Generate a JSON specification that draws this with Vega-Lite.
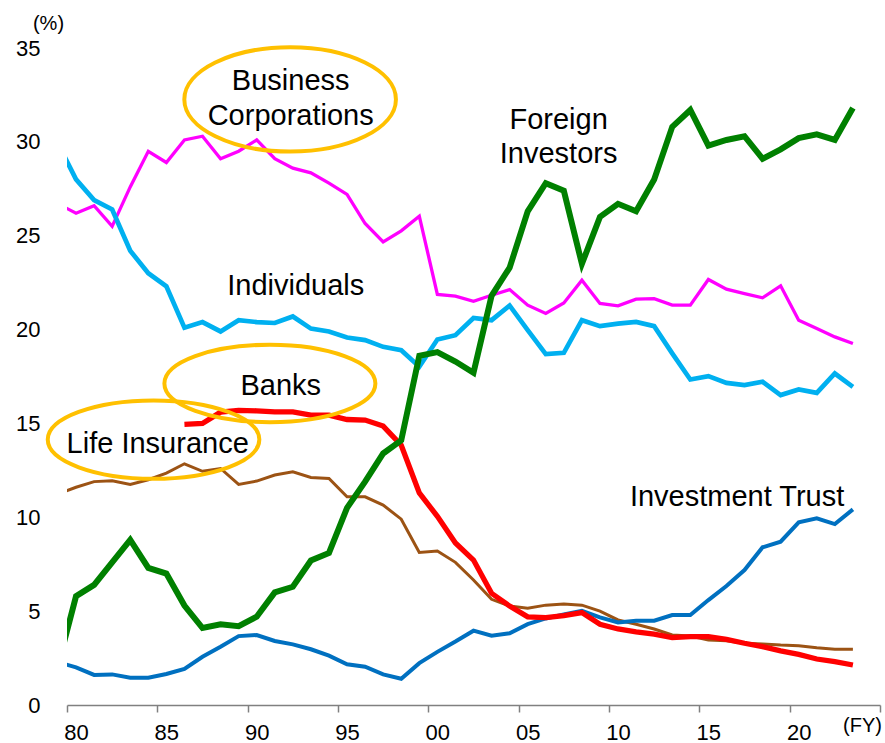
{
  "$schema": "https://vega.github.io/schema/vega-lite/v6.json",
  "width": 813,
  "height": 657,
  "autosize": {"type": "none"},
  "padding": {"left": 67, "top": 48, "right": 5, "bottom": 38},
  "background": "white",
  "config": {"view": {"stroke": null}, "font": "Liberation Sans", "axis": {"grid": false}},
  "datasets": {
    "shares": [
      {"year": 1979, "corp": 26.7, "ind": 29.9, "foreign": 2.1, "bank": null, "life": 11.23, "trust": 2.29},
      {"year": 1980, "corp": 26.2, "ind": 28.0, "foreign": 5.8, "bank": null, "life": 11.6, "trust": 2.0},
      {"year": 1981, "corp": 26.6, "ind": 26.9, "foreign": 6.4, "bank": null, "life": 11.9, "trust": 1.6},
      {"year": 1982, "corp": 25.5, "ind": 26.4, "foreign": 7.6, "bank": null, "life": 11.95, "trust": 1.63},
      {"year": 1983, "corp": 27.6, "ind": 24.2, "foreign": 8.8, "bank": null, "life": 11.75, "trust": 1.45},
      {"year": 1984, "corp": 29.5, "ind": 23.0, "foreign": 7.3, "bank": null, "life": 12.0, "trust": 1.45},
      {"year": 1985, "corp": 28.9, "ind": 22.3, "foreign": 7.0, "bank": null, "life": 12.35, "trust": 1.65},
      {"year": 1986, "corp": 30.1, "ind": 20.1, "foreign": 5.3, "bank": 14.95, "life": 12.85, "trust": 1.92},
      {"year": 1987, "corp": 30.3, "ind": 20.4, "foreign": 4.1, "bank": 15.0, "life": 12.45, "trust": 2.57},
      {"year": 1988, "corp": 29.1, "ind": 19.9, "foreign": 4.3, "bank": 15.6, "life": 12.6, "trust": 3.1},
      {"year": 1989, "corp": 29.5, "ind": 20.5, "foreign": 4.2, "bank": 15.7, "life": 11.75, "trust": 3.67},
      {"year": 1990, "corp": 30.1, "ind": 20.4, "foreign": 4.7, "bank": 15.67, "life": 11.93, "trust": 3.73},
      {"year": 1991, "corp": 29.1, "ind": 20.35, "foreign": 6.0, "bank": 15.62, "life": 12.25, "trust": 3.41},
      {"year": 1992, "corp": 28.6, "ind": 20.7, "foreign": 6.3, "bank": 15.62, "life": 12.42, "trust": 3.23},
      {"year": 1993, "corp": 28.35, "ind": 20.05, "foreign": 7.7, "bank": 15.44, "life": 12.12, "trust": 2.97},
      {"year": 1994, "corp": 27.8, "ind": 19.9, "foreign": 8.1, "bank": 15.44, "life": 12.07, "trust": 2.63},
      {"year": 1995, "corp": 27.2, "ind": 19.58, "foreign": 10.5, "bank": 15.21, "life": 11.09, "trust": 2.17},
      {"year": 1996, "corp": 25.65, "ind": 19.44, "foreign": 11.9, "bank": 15.18, "life": 11.09, "trust": 2.04},
      {"year": 1997, "corp": 24.67, "ind": 19.08, "foreign": 13.4, "bank": 14.86, "life": 10.65, "trust": 1.63},
      {"year": 1998, "corp": 25.26, "ind": 18.9, "foreign": 14.1, "bank": 13.84, "life": 9.9, "trust": 1.4},
      {"year": 1999, "corp": 26.04, "ind": 18.02, "foreign": 18.6, "bank": 11.3, "life": 8.13, "trust": 2.23},
      {"year": 2000, "corp": 21.87, "ind": 19.47, "foreign": 18.8, "bank": 10.05, "life": 8.2, "trust": 2.83},
      {"year": 2001, "corp": 21.78, "ind": 19.7, "foreign": 18.3, "bank": 8.63, "life": 7.6, "trust": 3.38},
      {"year": 2002, "corp": 21.51, "ind": 20.62, "foreign": 17.7, "bank": 7.72, "life": 6.66, "trust": 3.96},
      {"year": 2003, "corp": 21.83, "ind": 20.5, "foreign": 21.8, "bank": 5.95, "life": 5.63, "trust": 3.69},
      {"year": 2004, "corp": 22.13, "ind": 21.28, "foreign": 23.3, "bank": 5.27, "life": 5.27, "trust": 3.82},
      {"year": 2005, "corp": 21.3, "ind": 19.97, "foreign": 26.3, "bank": 4.7, "life": 5.15, "trust": 4.31},
      {"year": 2006, "corp": 20.86, "ind": 18.69, "foreign": 27.8, "bank": 4.65, "life": 5.32, "trust": 4.61},
      {"year": 2007, "corp": 21.42, "ind": 18.76, "foreign": 27.4, "bank": 4.76, "life": 5.38, "trust": 4.83},
      {"year": 2008, "corp": 22.63, "ind": 20.5, "foreign": 23.5, "bank": 4.92, "life": 5.32, "trust": 5.02},
      {"year": 2009, "corp": 21.39, "ind": 20.18, "foreign": 26.0, "bank": 4.3, "life": 5.0, "trust": 4.67},
      {"year": 2010, "corp": 21.26, "ind": 20.32, "foreign": 26.7, "bank": 4.05, "life": 4.53, "trust": 4.4},
      {"year": 2011, "corp": 21.62, "ind": 20.41, "foreign": 26.3, "bank": 3.9, "life": 4.3, "trust": 4.49},
      {"year": 2012, "corp": 21.65, "ind": 20.18, "foreign": 28.0, "bank": 3.78, "life": 4.05, "trust": 4.49},
      {"year": 2013, "corp": 21.3, "ind": 18.73, "foreign": 30.8, "bank": 3.59, "life": 3.73, "trust": 4.79},
      {"year": 2014, "corp": 21.3, "ind": 17.34, "foreign": 31.7, "bank": 3.64, "life": 3.67, "trust": 4.79},
      {"year": 2015, "corp": 22.67, "ind": 17.52, "foreign": 29.8, "bank": 3.64, "life": 3.46, "trust": 5.59},
      {"year": 2016, "corp": 22.15, "ind": 17.16, "foreign": 30.1, "bank": 3.5, "life": 3.42, "trust": 6.34},
      {"year": 2017, "corp": 21.92, "ind": 17.04, "foreign": 30.3, "bank": 3.29, "life": 3.29, "trust": 7.19},
      {"year": 2018, "corp": 21.69, "ind": 17.22, "foreign": 29.1, "bank": 3.11, "life": 3.25, "trust": 8.4},
      {"year": 2019, "corp": 22.33, "ind": 16.51, "foreign": 29.6, "bank": 2.88, "life": 3.19, "trust": 8.7},
      {"year": 2020, "corp": 20.5, "ind": 16.81, "foreign": 30.2, "bank": 2.7, "life": 3.16, "trust": 9.73},
      {"year": 2021, "corp": 20.06, "ind": 16.63, "foreign": 30.4, "bank": 2.45, "life": 3.05, "trust": 9.94},
      {"year": 2022, "corp": 19.61, "ind": 17.66, "foreign": 30.1, "bank": 2.31, "life": 2.97, "trust": 9.64},
      {"year": 2023, "corp": 19.26, "ind": 16.95, "foreign": 31.8, "bank": 2.13, "life": 2.97, "trust": 10.42}
    ],
    "one": [{"k": 1}]
  },
  "data": {"name": "shares"},
  "layer": [
    {
      "mark": {"type": "line", "color": "#FF00FF", "strokeWidth": 3.3, "clip": true},
      "encoding": {
        "x": {
          "field": "year", "type": "quantitative", "title": "(FY)",
          "scale": {"domain": [1979.5, 2024.5], "nice": false, "zero": false},
          "axis": {
            "values": [1979.5, 1984.5, 1989.5, 1994.5, 1999.5, 2004.5, 2009.5, 2014.5, 2019.5, 2024.5],
            "labelExpr": "datum.value > 2024 ? '' : substring(toString(datum.value + 0.5), 2, 4)",
            "labelOffset": 9,
            "labelFlush": false,
            "labelBound": false,
            "labelOverlap": false,
            "tickSize": 7,
            "tickWidth": 1.5,
            "tickColor": "#808080",
            "domainColor": "#808080",
            "domainWidth": 1.5,
            "labelFontSize": 22,
            "labelColor": "#000000",
            "labelFont": "Liberation Sans",
            "labelPadding": 10,
            "title": "(FY)",
            "titleX": 795,
            "titleY": 20,
            "titleAlign": "center",
            "titleBaseline": "middle",
            "titleFontSize": 20,
            "titleFontWeight": "normal",
            "titleColor": "#000000",
            "titleFont": "Liberation Sans"
          }
        },
        "y": {
          "field": "corp", "type": "quantitative", "title": "(%)",
          "scale": {"domain": [0, 35], "nice": false},
          "axis": {
            "values": [0, 5, 10, 15, 20, 25, 30, 35],
            "domain": false,
            "ticks": false,
            "labelPadding": 27,
            "labelFontSize": 22,
            "labelColor": "#000000",
            "labelFont": "Liberation Sans",
            "title": "(%)",
            "titleAngle": 0,
            "titleX": -19,
            "titleY": -25,
            "titleAlign": "center",
            "titleBaseline": "middle",
            "titleFontSize": 20,
            "titleFontWeight": "normal",
            "titleColor": "#000000",
            "titleFont": "Liberation Sans"
          }
        }
      }
    },
    {
      "mark": {"type": "line", "color": "#00B0F0", "strokeWidth": 4.7, "clip": true},
      "encoding": {
        "x": {"field": "year", "type": "quantitative", "title": "(FY)"},
        "y": {"field": "ind", "type": "quantitative", "title": "(%)"}
      }
    },
    {
      "mark": {"type": "line", "color": "#9C5314", "strokeWidth": 3, "clip": true},
      "encoding": {
        "x": {"field": "year", "type": "quantitative", "title": "(FY)"},
        "y": {"field": "life", "type": "quantitative", "title": "(%)"}
      }
    },
    {
      "mark": {"type": "line", "color": "#0070C0", "strokeWidth": 4, "clip": true},
      "encoding": {
        "x": {"field": "year", "type": "quantitative", "title": "(FY)"},
        "y": {"field": "trust", "type": "quantitative", "title": "(%)"}
      }
    },
    {
      "mark": {"type": "line", "color": "#FF0000", "strokeWidth": 5.3, "clip": true},
      "encoding": {
        "x": {"field": "year", "type": "quantitative", "title": "(FY)"},
        "y": {"field": "bank", "type": "quantitative", "title": "(%)"}
      }
    },
    {
      "mark": {"type": "line", "color": "#008000", "strokeWidth": 6, "clip": true},
      "encoding": {
        "x": {"field": "year", "type": "quantitative", "title": "(FY)"},
        "y": {"field": "foreign", "type": "quantitative", "title": "(%)"}
      }
    },
    {
      "data": {"name": "one"},
      "mark": {"type": "point", "shape": "M -1 0 A 1 0.493 0 1 1 1 0 A 1 0.493 0 1 1 -1 0 Z", "size": 44775, "filled": false, "stroke": "#FFC000", "strokeWidth": 4, "opacity": 1},
      "encoding": {
        "x": {"datum": 1991.85, "type": "quantitative", "title": "(FY)"},
        "y": {"datum": 32.26, "type": "quantitative", "title": "(%)"}
      }
    },
    {
      "data": {"name": "one"},
      "mark": {"type": "point", "shape": "M -1 0 A 1 0.367 0 1 1 1 0 A 1 0.367 0 1 1 -1 0 Z", "size": 44521, "filled": false, "stroke": "#FFC000", "strokeWidth": 4, "opacity": 1},
      "encoding": {
        "x": {"datum": 1990.73, "type": "quantitative", "title": "(FY)"},
        "y": {"datum": 17.13, "type": "quantitative", "title": "(%)"}
      }
    },
    {
      "data": {"name": "one"},
      "mark": {"type": "point", "shape": "M -1 0 A 1 0.37 0 1 1 1 0 A 1 0.37 0 1 1 -1 0 Z", "size": 44775, "filled": false, "stroke": "#FFC000", "strokeWidth": 4, "opacity": 1},
      "encoding": {
        "x": {"datum": 1984.29, "type": "quantitative", "title": "(FY)"},
        "y": {"datum": 14.14, "type": "quantitative", "title": "(%)"}
      }
    },
    {
      "data": {"name": "one"},
      "mark": {"type": "text", "text": ["Business", "Corporations"], "fontSize": 29, "lineHeight": 35, "font": "Liberation Sans", "color": "#000000", "align": "center", "baseline": "middle"},
      "encoding": {
        "x": {"datum": 1991.88, "type": "quantitative", "title": "(FY)"},
        "y": {"datum": 33.25, "type": "quantitative", "title": "(%)"}
      }
    },
    {
      "data": {"name": "one"},
      "mark": {"type": "text", "text": "Individuals", "fontSize": 29, "font": "Liberation Sans", "color": "#000000", "align": "center", "baseline": "middle"},
      "encoding": {
        "x": {"datum": 1992.16, "type": "quantitative", "title": "(FY)"},
        "y": {"datum": 22.3, "type": "quantitative", "title": "(%)"}
      }
    },
    {
      "data": {"name": "one"},
      "mark": {"type": "text", "text": ["Foreign", "Investors"], "fontSize": 29, "lineHeight": 34, "font": "Liberation Sans", "color": "#000000", "align": "center", "baseline": "middle"},
      "encoding": {
        "x": {"datum": 2006.71, "type": "quantitative", "title": "(FY)"},
        "y": {"datum": 31.15, "type": "quantitative", "title": "(%)"}
      }
    },
    {
      "data": {"name": "one"},
      "mark": {"type": "text", "text": "Banks", "fontSize": 29, "font": "Liberation Sans", "color": "#000000", "align": "center", "baseline": "middle"},
      "encoding": {
        "x": {"datum": 1991.33, "type": "quantitative", "title": "(FY)"},
        "y": {"datum": 16.98, "type": "quantitative", "title": "(%)"}
      }
    },
    {
      "data": {"name": "one"},
      "mark": {"type": "text", "text": "Life Insurance", "fontSize": 29, "font": "Liberation Sans", "color": "#000000", "align": "center", "baseline": "middle"},
      "encoding": {
        "x": {"datum": 1984.52, "type": "quantitative", "title": "(FY)"},
        "y": {"datum": 13.88, "type": "quantitative", "title": "(%)"}
      }
    },
    {
      "data": {"name": "one"},
      "mark": {"type": "text", "text": "Investment Trust", "fontSize": 29, "font": "Liberation Sans", "color": "#000000", "align": "center", "baseline": "middle"},
      "encoding": {
        "x": {"datum": 2016.59, "type": "quantitative", "title": "(FY)"},
        "y": {"datum": 11.1, "type": "quantitative", "title": "(%)"}
      }
    }
  ]
}
